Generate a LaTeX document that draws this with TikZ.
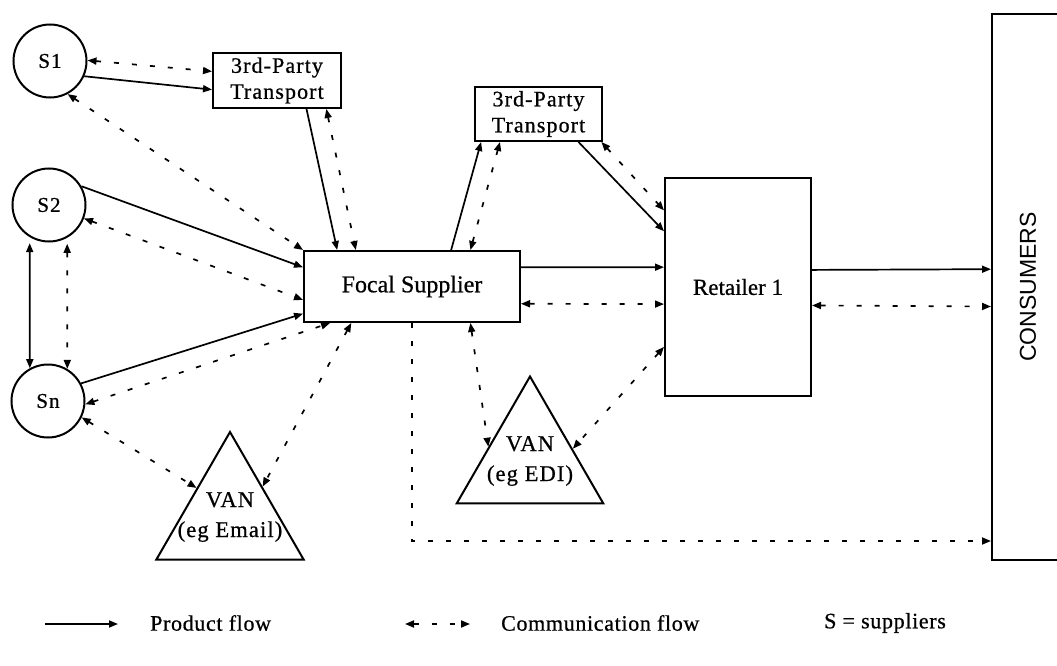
\documentclass[tikz,border=0pt]{standalone}
\usepackage{fontspec}
\setmainfont{Liberation Serif}[FakeBold=0.7]
\setsansfont{Liberation Sans}
\newfontfamily\spacedserif{Liberation Serif}[FakeBold=0.7,LetterSpace=5]
\newfontfamily\keyserif{Liberation Serif}[FakeBold=0.7,LetterSpace=3]
\usetikzlibrary{arrows.meta,shapes.geometric}
\begin{document}
\begin{tikzpicture}[x=1pt,y=-1pt,
  >={Triangle[length=9pt,width=7pt]},
  box/.style={draw,line width=2pt,inner sep=0pt,align=center},
  circ/.style={draw,circle,line width=2pt,minimum size=73pt,inner sep=0pt,
    font=\spacedserif\fontsize{21}{25}\selectfont},
  van/.style={draw,regular polygon,regular polygon sides=3,line width=2pt,
    inner sep=0pt},
  vantext/.style={align=center,inner sep=0pt,
    font=\spacedserif\fontsize{22.5}{30}\selectfont},
  prod/.style={line width=1.7pt,->},
  comm/.style={line width=1.7pt,dash pattern=on 5pt off 13pt,<->},
  legend/.style={inner sep=0pt,anchor=west,font=\keyserif\fontsize{22}{26}\selectfont}]
\clip (0,0) rectangle (1057,666);

% suppliers
\node[circ] (s1) at (50,61) {S1};
\node[circ] (s2) at (49,205) {S2};
\node[circ] (sn) at (48,401) {Sn};

% transport, focal supplier, retailer, consumers
\node[box,minimum width=128pt,minimum height=55pt,
  font=\spacedserif\fontsize{22}{26}\selectfont]
  (t1) at (277,80.5) {3rd-Party\\Transport};
\node[box,minimum width=127pt,minimum height=54pt,
  font=\spacedserif\fontsize{22}{26}\selectfont]
  (t2) at (538.5,114) {3rd-Party\\Transport};
\node[box,minimum width=216pt,minimum height=71pt,font=\fontsize{24}{28}\selectfont]
  (f) at (412,286.5) {Focal Supplier};
\node[box,minimum width=146pt,minimum height=218pt,font=\fontsize{23}{27}\selectfont]
  (r) at (738,287) {Retailer 1};
\node[box,minimum width=78pt,minimum height=546pt] (cons) at (1031,287) {};
\node[rotate=90,inner sep=0pt,font=\sffamily\fontsize{23}{27}\selectfont]
  (constxt) at (1028,287) {CONSUMERS};

% value-added networks
\node[van,minimum size=170pt] (ve) at (230,517) {};
\node[vantext] (vetxt) at (ve.center) {VAN\\(eg Email)};
\node[van,minimum size=169pt] (vd) at (530,461) {};
\node[vantext] (vdtxt) at (vd.center) {VAN\\(eg EDI)};

% product flow
\draw[prod] (s1.-24) -- (t1.-172.4);
\draw[prod] (t1.-44.5) -- (f.154.1);
\draw[prod] (s2.30.7) -- (f.170.3);
\draw[prod] (sn.28.4) -- (f.194.8);
\draw[prod,<->,shorten <=6pt] (s2.239) -- (sn.119.1);
\draw[prod] (f.43.8) -- (t2.206.8);
\draw[prod] (t2.-35) -- (r.143);
\draw[prod] (f.10.2) -- (r.165.4);
\draw[prod] (r.13.1) -- (cons.156.4);

% communication flow
\draw[comm] (s1.1.5) -- (t1.172.4);
\draw[comm] (s1.-62.8) -- (f.north west);
\draw[comm] (t1.-30.9) -- (f.147.2);
\draw[comm] (s2.-21.5) -- (f.187.1);
\draw[comm,shorten <=6pt] (s2.-61) -- (sn.59);
\draw[comm] (sn.-5.9) -- (f.204.5);
\draw[comm] (sn.-26) -- (ve.139);
\draw[comm] (f.211.9) -- (ve.43.5);
\draw[comm] (f.32.4) -- (t2.216.5);
\draw[comm] (t2.-24.4) -- (r.134.2);
\draw[comm] (f.-9.2) -- (r.193.1);
\draw[comm] (f.-32.8) -- (vd.161.2);
\draw[comm] (r.219.4) -- (vd.16.9);
\draw[comm] (r.-14.6) -- (cons.206);
\draw[line width=1.7pt,dash pattern=on 5pt off 13pt,->]
  (f.south) |- ([yshift=-254pt]cons.west);

% key
\coordinate (lp1) at (45,624);
\coordinate (lp2) at (118,624);
\draw[prod] (lp1) -- (lp2);
\node[legend] (lptxt) at (150,623) {Product flow};
\coordinate (lc1) at (405,624);
\coordinate (lc2) at (470,624);
\draw[comm] (lc1) -- (lc2);
\node[legend] (lctxt) at (501,623) {Communication flow};
\node[legend] (lstxt) at (824,623) {S = suppliers};
\end{tikzpicture}
\end{document}
